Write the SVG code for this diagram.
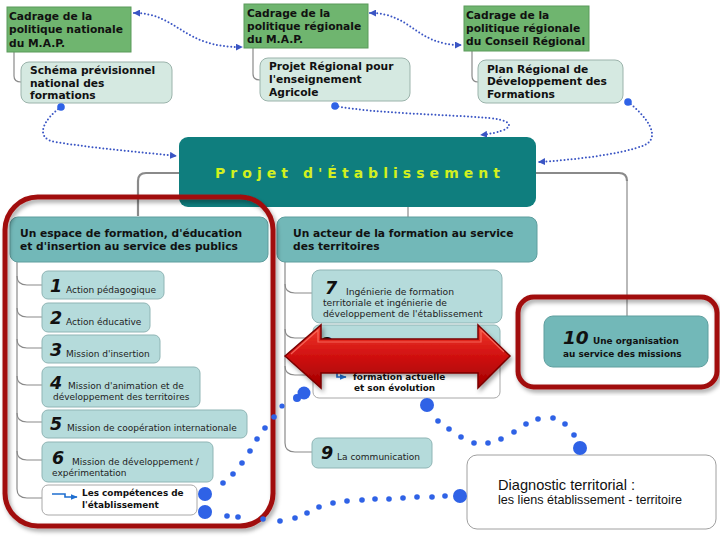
<svg xmlns="http://www.w3.org/2000/svg" width="720" height="540" viewBox="0 0 720 540">
<style>
.bt{font-family:"DejaVu Sans",Verdana,sans-serif;font-weight:bold;font-size:10.7px;fill:#111}
.st{font-family:"DejaVu Sans",Verdana,sans-serif;font-size:9px;fill:#222}
.sb{font-family:"DejaVu Sans",Verdana,sans-serif;font-weight:bold;font-size:8.9px;fill:#111}
.num{font-family:"DejaVu Sans",Verdana,sans-serif;font-weight:bold;font-style:italic;font-size:17.5px;fill:#111}
.green{fill:#6fb56f;stroke:#5b9a5b;stroke-width:1}
.light{fill:#d5e9e1;stroke:#9bb3ab;stroke-width:1}
.lvl{fill:#72b8b8;stroke:#5e9e9e;stroke-width:1}
.sub{fill:#b5dbdb;stroke:#8fb5b5;stroke-width:1}
.wht{fill:#ffffff;stroke:#a8a8a8;stroke-width:1}
.tree{fill:none;stroke:#8a8a8a;stroke-width:1.2}
.treeb{fill:none;stroke:#8a8a8a;stroke-width:2.2}
.dot{fill:none;stroke:#3a55c4;stroke-width:2;stroke-dasharray:0 3.6;stroke-linecap:round}
.bd{fill:#2f62e6}
.frame{fill:none;stroke:#a10f0f;stroke-width:5;filter:url(#sh)}
</style>
<defs>
<marker id="ah" viewBox="0 0 8 8" refX="7" refY="4" markerWidth="7" markerHeight="7" orient="auto-start-reverse" markerUnits="userSpaceOnUse"><path d="M0,0 L8,4 L0,8 z" fill="#3a55c4"/></marker>
<marker id="ba" viewBox="0 0 10 10" refX="9" refY="5" markerWidth="7" markerHeight="7" orient="auto" markerUnits="userSpaceOnUse"><path d="M0,1 L10,5 L0,9 z" fill="#1f6fd0"/></marker>
<filter id="sh" x="-10%" y="-10%" width="120%" height="120%"><feDropShadow dx="2" dy="3" stdDeviation="2" flood-color="#000" flood-opacity="0.35"/></filter>
<linearGradient id="rg" x1="0" y1="0" x2="0" y2="1"><stop offset="0" stop-color="#f03a2a"/><stop offset="0.5" stop-color="#d01010"/><stop offset="1" stop-color="#a00000"/></linearGradient>
</defs>
<rect width="720" height="540" fill="#ffffff"/>

<g id="connectors">
<path class="tree" d="M14,52 V76 Q14,82 21,82"/>
<path class="tree" d="M253,48 V74 Q253,80 260,80"/>
<path class="tree" d="M472,51 V76 Q472,82 478,82"/>
<path class="treeb" d="M179,173 H146 Q138,173 138,181 V216"/>
<path class="treeb" d="M536,173 H619 Q627,173 627,181"/>
<path class="tree" d="M627,180 V316"/>
<path class="tree" d="M408,207 V217"/>
<path class="tree" d="M17,262 V489 Q17,498 27,498 H42"/>
<path class="tree" d="M17,276 Q17,285 27,285 H42"/>
<path class="tree" d="M17,308 Q17,317 27,317 H42"/>
<path class="tree" d="M17,339 Q17,348 27,348 H42"/>
<path class="tree" d="M17,376 Q17,385 27,385 H42"/>
<path class="tree" d="M17,413 Q17,422 27,422 H42"/>
<path class="tree" d="M17,451 Q17,460 27,460 H42"/>
<path class="tree" d="M285,262 V443 Q285,452 295,452 H312"/>
<path class="tree" d="M285,284 Q285,293 295,293 H312"/>
<path class="tree" d="M285,329 Q285,338 295,338 H313"/>
<path class="tree" d="M285,366 Q285,375 295,375 H313"/>
</g>

<g id="n-cadrage-nat"><rect class="green" x="7" y="7" width="124" height="45"/>
<text class="bt" x="9" y="20">Cadrage de la</text><text class="bt" x="9" y="33.3">politique nationale</text><text class="bt" x="9" y="46.6">du M.A.P.</text></g>
<g id="n-schema"><rect class="light" x="21" y="62" width="151" height="41" rx="8"/>
<text class="bt" x="30" y="74">Schéma prévisionnel</text><text class="bt" x="30" y="86.5">national des</text><text class="bt" x="30" y="99">formations</text></g>

<g id="n-cadrage-reg"><rect class="green" x="244" y="4" width="124" height="44"/>
<text class="bt" x="247" y="17">Cadrage de la</text><text class="bt" x="247" y="30">politique régionale</text><text class="bt" x="247" y="43">du M.A.P.</text></g>
<g id="n-projet-reg"><rect class="light" x="260" y="58" width="150" height="43" rx="8"/>
<text class="bt" x="269" y="70">Projet Régional pour</text><text class="bt" x="269" y="83">l'enseignement</text><text class="bt" x="269" y="96">Agricole</text></g>

<g id="n-cadrage-cr"><rect class="green" x="464" y="6" width="125" height="45"/>
<text class="bt" x="466" y="18.5">Cadrage de la</text><text class="bt" x="466" y="31.8">politique régionale</text><text class="bt" x="466" y="45">du Conseil Régional</text></g>
<g id="n-plan-reg"><rect class="light" x="478" y="60" width="145" height="43" rx="8"/>
<text class="bt" x="487" y="72.5">Plan Régional de</text><text class="bt" x="487" y="85">Développement des</text><text class="bt" x="487" y="97.5">Formations</text></g>

<g id="n-projet-etab"><rect x="179" y="137" width="357" height="70" rx="9" fill="#0f7e7e"/>
<text x="215" y="178" textLength="285" lengthAdjust="spacing" style="font-family:'DejaVu Sans',Verdana,sans-serif;font-weight:bold;font-size:14px;fill:#d2f020">Projet d'Établissement</text></g>

<g id="n-espace"><rect class="lvl" x="10" y="217" width="258" height="45" rx="8"/>
<text class="bt" x="20" y="237">Un espace de formation, d'éducation</text><text class="bt" x="20" y="249.5">et d'insertion au service des publics</text></g>
<g id="n-acteur"><rect class="lvl" x="277" y="217" width="260" height="45" rx="8"/>
<text class="bt" x="293" y="237">Un acteur de la formation au service</text><text class="bt" x="293" y="249.5">des territoires</text></g>

<g id="n-1"><rect class="sub" x="42" y="271" width="122" height="28" rx="6"/>
<text class="num" x="50" y="292">1</text><text class="st" x="66" y="293">Action pédagogique</text></g>
<g id="n-2"><rect class="sub" x="42" y="303" width="108" height="29" rx="6"/>
<text class="num" x="50" y="324">2</text><text class="st" x="66" y="325">Action éducative</text></g>
<g id="n-3"><rect class="sub" x="42" y="335" width="118" height="28" rx="6"/>
<text class="num" x="50" y="356">3</text><text class="st" x="66" y="357">Mission d'insertion</text></g>
<g id="n-4"><rect class="sub" x="42" y="367" width="158" height="40" rx="6"/>
<text class="num" x="50" y="389">4</text><text class="st" x="68" y="389">Mission d'animation et de</text><text class="st" x="53" y="400">développement des territoires</text></g>
<g id="n-5"><rect class="sub" x="42" y="410" width="205" height="28" rx="6"/>
<text class="num" x="50" y="430">5</text><text class="st" x="67" y="431">Mission de coopération internationale</text></g>
<g id="n-6"><rect class="sub" x="42" y="442" width="171" height="40" rx="6"/>
<text class="num" x="52" y="464">6</text><text class="st" x="72" y="465">Mission de développement /</text><text class="st" x="52" y="476">expérimentation</text></g>
<g id="n-competences"><rect class="wht" x="42" y="485" width="155" height="30" rx="6"/>
<path d="M52,494 H65 V497 H77" fill="none" stroke="#1f6fd0" stroke-width="1.6" marker-end="url(#ba)"/>
<text class="sb" x="82" y="496">Les compétences de</text><text class="sb" x="82" y="508">l'établissement</text></g>

<g id="n-7"><rect class="sub" x="312" y="270" width="190" height="53" rx="8"/>
<text class="num" x="325" y="294">7</text><text class="st" x="346" y="295" style="font-size:9.2px">Ingénierie de formation</text><text class="st" x="323" y="306" style="font-size:9.2px">territoriale et ingénierie de</text><text class="st" x="323" y="317" style="font-size:9.2px">développement de l'établissement</text></g>
<g id="n-8"><rect class="sub" x="313" y="325" width="187" height="30" rx="6"/>
<text class="num" x="320" y="350">8</text></g>
<g id="n-8b"><rect class="wht" x="313" y="356" width="187" height="42" rx="6"/>
<path d="M337,366 V377 H346" fill="none" stroke="#1f6fd0" stroke-width="1.6" marker-end="url(#ba)"/>
<text class="sb" x="353" y="380">formation actuelle</text><text class="sb" x="354" y="391">et son évolution</text></g>
<g id="n-9"><rect class="sub" x="312" y="438" width="120" height="30" rx="6"/>
<text class="num" x="321" y="459">9</text><text class="st" x="337" y="460">La communication</text></g>

<g id="n-10"><rect class="lvl" x="544" y="316" width="164" height="51" rx="9"/>
<text class="num" x="563" y="344" style="font-size:18.5px">10</text><text class="sb" x="593" y="344">Une organisation</text><text class="sb" x="563" y="357">au service des missions</text></g>

<g id="n-diagnostic"><rect x="467" y="455" width="249" height="74" rx="10" fill="#ffffff" stroke="#a0a0a0" stroke-width="1"/>
<text x="498" y="490" style="font-family:'Liberation Sans',Arial,sans-serif;font-size:14.6px;fill:#111">Diagnostic territorial :</text>
<text x="498" y="503.5" style="font-family:'Liberation Sans',Arial,sans-serif;font-size:12.6px;fill:#111">les liens établissement - territoire</text></g>

<g id="highlights">
<rect class="frame" x="5" y="197" width="268" height="329" rx="33"/>
<rect class="frame" x="518" y="297" width="199" height="90" rx="16"/>
<path d="M285,356 L321,325 L321,339 L478,339 L478,325 L510,356 L478,388 L478,373 L321,373 L321,388 Z" fill="url(#rg)" stroke="#7a0000" stroke-width="1.5" filter="url(#sh)"/>
<path d="M291,354 L318,330 L318,342 L481,342 L481,330 L504,352" fill="none" stroke="#ff8070" stroke-width="1.2" opacity="0.7"/>
</g>

<g id="links">
<path class="dot" d="M134,13 C178,13 182,48 242,47" marker-start="url(#ah)" marker-end="url(#ah)"/>
<path class="dot" d="M370,13 C412,13 415,45 461,45" marker-start="url(#ah)" marker-end="url(#ah)"/>
<path class="dot" d="M61,107 C45,118 33,138 55,142 C100,149 140,152 176,156" marker-end="url(#ah)"/>
<circle class="bd" cx="61" cy="107" r="3.8"/>
<path class="dot" d="M335,106 C380,114 440,114 490,118 C518,121 515,131 481,135" marker-end="url(#ah)"/>
<circle class="bd" cx="335" cy="106" r="3.8"/>
<path class="dot" d="M628,102 C645,115 662,136 645,145 C620,155 570,160 539,162" marker-end="url(#ah)"/>
<circle class="bd" cx="628" cy="102" r="3.8"/>
<g class="bd">
<circle cx="427" cy="405" r="7"/><circle cx="438" cy="421" r="2.8"/><circle cx="449" cy="429" r="2.8"/><circle cx="461" cy="437" r="2.8"/><circle cx="474" cy="443" r="2.8"/><circle cx="488" cy="443" r="2.8"/><circle cx="501" cy="439" r="2.8"/><circle cx="514" cy="432" r="2.8"/><circle cx="526" cy="424" r="2.8"/><circle cx="538" cy="419" r="2.8"/><circle cx="553" cy="418" r="2.8"/><circle cx="565" cy="424" r="2.8"/><circle cx="574" cy="435" r="2.8"/><circle cx="580" cy="448" r="7"/>
<circle cx="304" cy="393" r="6.5"/><circle cx="297" cy="398" r="4"/><circle cx="282" cy="406" r="2.6"/><circle cx="274" cy="417" r="2.8"/><circle cx="265" cy="428" r="2.8"/><circle cx="257" cy="439" r="2.8"/><circle cx="250" cy="451" r="2.8"/><circle cx="242" cy="463" r="2.8"/><circle cx="233" cy="474" r="2.8"/><circle cx="223" cy="483" r="2.8"/><circle cx="205" cy="494" r="7"/>
<circle cx="205" cy="512" r="7"/><circle cx="227" cy="516" r="2.8"/><circle cx="238" cy="517" r="2.8"/><circle cx="263" cy="519" r="2.8"/><circle cx="280" cy="521" r="2.8"/><circle cx="295" cy="518" r="2.8"/><circle cx="307" cy="513" r="2.8"/><circle cx="319" cy="507" r="2.8"/><circle cx="333" cy="503" r="2.8"/><circle cx="347" cy="501" r="2.8"/><circle cx="362" cy="500" r="2.8"/><circle cx="375" cy="499" r="2.8"/><circle cx="389" cy="499" r="2.8"/><circle cx="403" cy="498" r="2.8"/><circle cx="417" cy="497" r="2.8"/><circle cx="432" cy="497" r="2.8"/><circle cx="445" cy="496" r="2.8"/><circle cx="460" cy="496" r="7"/>
</g>
</g>
</svg>
